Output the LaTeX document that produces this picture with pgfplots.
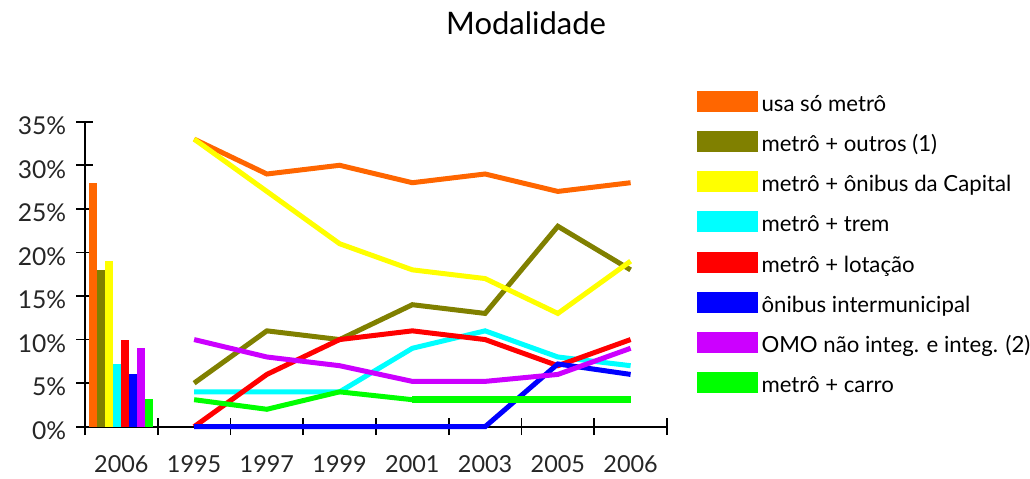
\documentclass[border=0pt]{standalone}
\usepackage{fontspec}
\setmainfont{Lato}
\usepackage{pgfplots}
\pgfplotsset{compat=1.18}
\definecolor{cOr}{HTML}{FF6600}
\definecolor{cOl}{HTML}{808000}
\definecolor{cYe}{HTML}{FFFF00}
\definecolor{cCy}{HTML}{00FFFF}
\definecolor{cRe}{HTML}{FF0000}
\definecolor{cBl}{HTML}{0000FF}
\definecolor{cPu}{HTML}{CC00FF}
\definecolor{cGr}{HTML}{00FF00}
\begin{document}
\begin{tikzpicture}
\begin{axis}[
  scale only axis, width=291pt, height=152.5pt,
  xmin=-0.5, xmax=7.5, ymin=0, ymax=35,
  axis x line=bottom, axis y line=left,
  axis line style={-, line width=0.85pt, black},
  tick align=center,
  major tick length=8.5pt, minor tick length=8.5pt,
  every tick/.style={line width=0.85pt, black},
  xtick={0,...,7},
  xticklabels={2006,1995,1997,1999,2001,2003,2005,2006},
  major x tick style={draw=none},
  minor xtick={-0.5,0.5,...,7.5},
  ytick={0,5,...,35},
  yticklabels={0\%,5\%,10\%,15\%,20\%,25\%,30\%,35\%},
  minor ytick={},
  tick label style={text=black!85},
  xticklabel style={font=\fontsize{11.7}{13}\selectfont, anchor=base, inner sep=0pt, yshift=-18.5pt},
  yticklabel style={font=\fontsize{12.3}{14}\selectfont, anchor=east, inner sep=0pt, xshift=-5pt, yshift=-2pt},
  title={Modalidade},
  title style={at={(0.758,1.283)}, anchor=center, font=\fontsize{15.5}{18}\selectfont, inner sep=0pt},
  legend image code/.code={\fill[#1] (0pt,-2pt) rectangle (28pt,6pt);},
  legend cell align=left,
  legend style={at={(1.0515,1.1016)}, anchor=north west, draw=none, fill=none,
    inner sep=0pt, outer sep=0pt, row sep=7.85pt,
    font=\fontsize{11.1}{13}\selectfont,
    nodes={inner sep=0pt, text height=8pt, text depth=2pt},
    /tikz/every even column/.append style={column sep=0pt},
    /tikz/every odd column/.append style={column sep=1.8pt}},
  clip=false,
]
% bars (2006)
\addplot[ybar, bar width=4pt, bar shift=0pt, fill=cOr, draw=none, forget plot] coordinates {(-0.385,28)};
\addplot[ybar, bar width=4pt, bar shift=0pt, fill=cOl, draw=none, forget plot] coordinates {(-0.275,18)};
\addplot[ybar, bar width=4pt, bar shift=0pt, fill=cYe, draw=none, forget plot] coordinates {(-0.165,19)};
\addplot[ybar, bar width=4pt, bar shift=0pt, fill=cCy, draw=none, forget plot] coordinates {(-0.055,7.2)};
\addplot[ybar, bar width=4pt, bar shift=0pt, fill=cRe, draw=none, forget plot] coordinates {(0.055,10)};
\addplot[ybar, bar width=4pt, bar shift=0pt, fill=cBl, draw=none, forget plot] coordinates {(0.165,6)};
\addplot[ybar, bar width=4pt, bar shift=0pt, fill=cPu, draw=none, forget plot] coordinates {(0.275,9)};
\addplot[ybar, bar width=4pt, bar shift=0pt, fill=cGr, draw=none, forget plot] coordinates {(0.385,3.2)};
% lines
\addplot[color=cOr, line width=2.5pt] coordinates {(1,33) (2,29) (3,30) (4,28) (5,29) (6,27) (7,28)};
\addplot[color=cOl, line width=2.5pt] coordinates {(1,5) (2,11) (3,10) (4,14) (5,13) (6,23) (7,18)};
\addplot[color=cYe, line width=2.5pt] coordinates {(1,33) (2,27) (3,21) (4,18) (5,17) (6,13) (7,19)};
\addplot[color=cCy, line width=2.5pt] coordinates {(1,4) (2,4) (3,4) (4,9) (5,11) (6,8) (7,7)};
\addplot[color=cRe, line width=2.5pt] coordinates {(1,0) (2,6) (3,10) (4,11) (5,10) (6,7) (7,10)};
\addplot[color=cBl, line width=2.5pt] coordinates {(1,0) (2,0) (3,0) (4,0) (5,0) (6,7.2) (7,6)};
\addplot[color=cPu, line width=2.5pt] coordinates {(1,10) (2,8) (3,7) (4,5.2) (5,5.2) (6,6) (7,9)};
\addplot[color=cGr, line width=2.5pt] coordinates {(1,3.1) (2,2) (3,4) (4,3.1) (5,3.1) (6,3.1) (7,3.1)};
\addplot[color=cGr, line width=3.5pt, forget plot] coordinates {(4,3.1) (5,3.1) (6,3.1) (7,3.1)};
\legend{usa só metrô, metrô + outros (1), metrô + ônibus da Capital, metrô + trem, metrô + lotação, ônibus intermunicipal, OMO não integ. e integ. (2), metrô + carro}
\end{axis}
\pgfresetboundingbox
\useasboundingbox (-42.5pt,-25.65pt) rectangle (472.5pt,213.35pt);
\end{tikzpicture}
\end{document}
